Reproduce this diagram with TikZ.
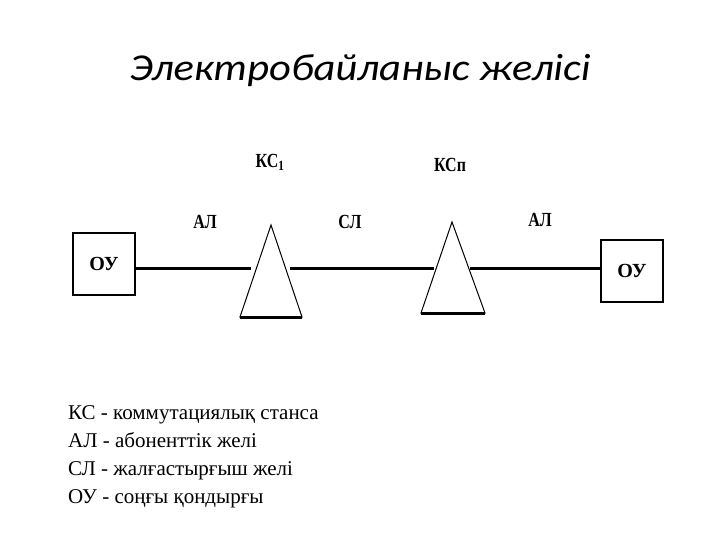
\documentclass[tikz,border=0pt]{standalone}
\usepackage{fontspec}
\setmainfont{Liberation Serif}
\newfontfamily\titlefont{Carlito}
\begin{document}
\begin{tikzpicture}[x=1pt,y=-1pt,
  box/.style={draw,line width=2.5pt,minimum width=62pt,minimum height=62pt,inner sep=0pt,font=\bfseries\fontsize{20}{24}\selectfont,xscale=0.85},
  lbl/.style={font=\bfseries\fontsize{20}{24}\selectfont,xscale=0.8},
  wire/.style={line width=3pt},
  tri/.style={line width=1pt}]
\useasboundingbox (0,0) rectangle (720,540);
\node[font=\titlefont\itshape\fontsize{38}{44}\selectfont,xscale=1.12] (title) at (360,70) {Электробайланыс желісі};
\node[box,xscale=1.18] (ou1) at (104,264) {ОУ};
\node[box,xscale=1.18] (ou2) at (632,271) {ОУ};
\coordinate (t1a) at (271,225); \coordinate (t1l) at (240,317); \coordinate (t1r) at (302,317);
\coordinate (t2a) at (452,222); \coordinate (t2l) at (421,313); \coordinate (t2r) at (485,313);
\draw[tri] (t1a) -- (t1l) -- (t1r) -- cycle;
\draw[line width=3pt] (t1l) -- (t1r);
\draw[tri] (t2a) -- (t2l) -- (t2r) -- cycle;
\draw[line width=3pt] (t2l) -- (t2r);
\coordinate (w1) at (251,268); \coordinate (w2) at (290,268);
\coordinate (w3) at (434,268); \coordinate (w4) at (470,268);
\draw[wire] (ou1.east |- w1) -- (w1);
\draw[wire] (w2) -- (w3);
\draw[wire] (w4) -- (ou2.west |- w4);
\node[lbl] (kc1) at (270,162) {КС$_{\mathbf 1}$};
\node[lbl] (kcn) at (450,165) {КСп};
\node[lbl] (al1) at (205,222) {АЛ};
\node[lbl] (sl) at (350,222) {СЛ};
\node[lbl] (al2) at (540,220) {АЛ};
\node[anchor=north west,align=left,font=\fontsize{21}{28}\selectfont,inner sep=0pt] (leg) at (68,405)
 {КС - коммутациялық станса\\АЛ - абоненттік желі\\СЛ - жалғастырғыш желі\\ОУ - соңғы қондырғы};
\end{tikzpicture}
\end{document}
